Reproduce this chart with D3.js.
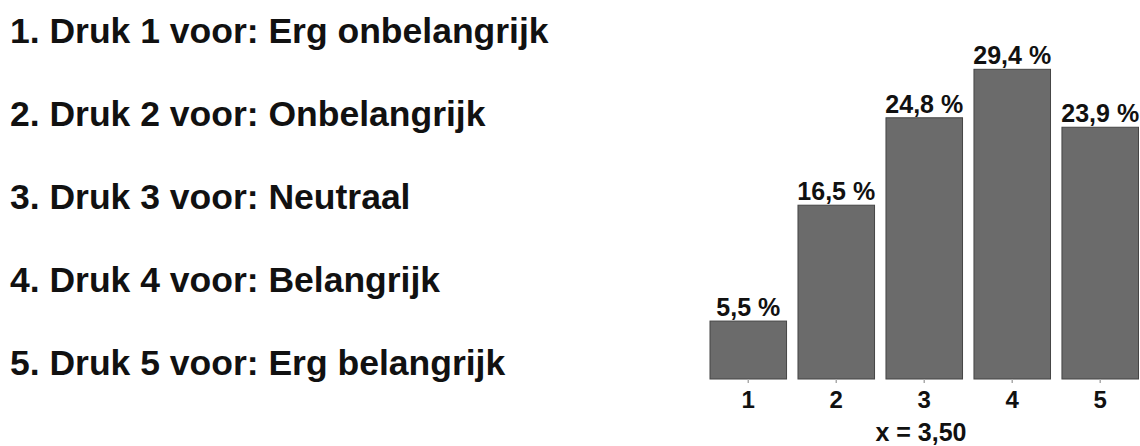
<!DOCTYPE html>
<html>
<head>
<meta charset="utf-8">
<script src="https://cdn.jsdelivr.net/npm/d3@7"></script>
<style>
  body { margin: 0; background: #fff; }
  text { font-family: "Liberation Sans", Arial, sans-serif; font-weight: bold; fill: #111; }
</style>
</head>
<body>
<div id="chart"></div>
<script>
// answer options shown on the left
const options = ["Erg onbelangrijk", "Onbelangrijk", "Neutraal", "Belangrijk", "Erg belangrijk"];
// categories and percentages of the bars
const categories = ["1", "2", "3", "4", "5"];
const percentages = [5.5, 16.5, 24.8, 29.4, 23.9];
const meanValue = 3.50;

const width = 1140;
const height = 446;

const nl = d3.formatLocale({ decimal: ",", thousands: ".", grouping: [3], currency: ["€", ""] });
const fmt1 = nl.format(".1f");
const fmt2 = nl.format(".2f");

const svg = d3
  .select("#chart")
  .append("svg")
  .attr("width", width)
  .attr("height", height);

// list of options
svg.selectAll(".option")
  .data(options)
  .enter()
  .append("text")
  .attr("class", "option")
  .attr("x", 10)
  .attr("y", (d, i) => 43 + i * 83)
  .style("font-size", "35.5px")
  .text((d, i) => `${i + 1}. Druk ${i + 1} voor: ${d}`);

// scales
const x = d3.scaleBand().domain(categories).range([710, 1138.5]).paddingInner(0.13).paddingOuter(0);
const y = d3.scaleLinear().domain([0, 30]).range([379, 63]);

// bars
svg.selectAll(".bar")
  .data(percentages)
  .enter()
  .append("rect")
  .attr("class", "bar")
  .attr("x", (d, i) => x(categories[i]))
  .attr("y", (d) => y(d))
  .attr("width", x.bandwidth())
  .attr("height", (d) => y(0) - y(d))
  .attr("fill", "#6b6b6b")
  .attr("stroke", "#454545")
  .attr("stroke-width", 1);

// value labels
svg.selectAll(".label")
  .data(percentages)
  .enter()
  .append("text")
  .attr("class", "label")
  .attr("x", (d, i) => x(categories[i]) + x.bandwidth() / 2)
  .attr("y", (d) => y(d) - 5)
  .attr("text-anchor", "middle")
  .style("font-size", "25px")
  .text((d) => `${fmt1(d)} %`);

// x axis
const axis = svg.append("g")
  .attr("transform", `translate(0, ${y(0)})`)
  .call(d3.axisBottom(x).tickSize(4));
axis.select(".domain").remove();
axis.selectAll(".tick line").attr("stroke", "#aaa").attr("stroke-width", 1.5);
axis.selectAll(".tick text")
  .attr("dy", null)
  .attr("y", 29)
  .style("font-size", "24px")
  .attr("font-family", null)
  .attr("fill", "#111");

// mean
svg.append("text")
  .attr("x", 921)
  .attr("y", 441)
  .attr("text-anchor", "middle")
  .style("font-size", "25px")
  .text(`x = ${fmt2(meanValue)}`);
</script>
</body>
</html>
